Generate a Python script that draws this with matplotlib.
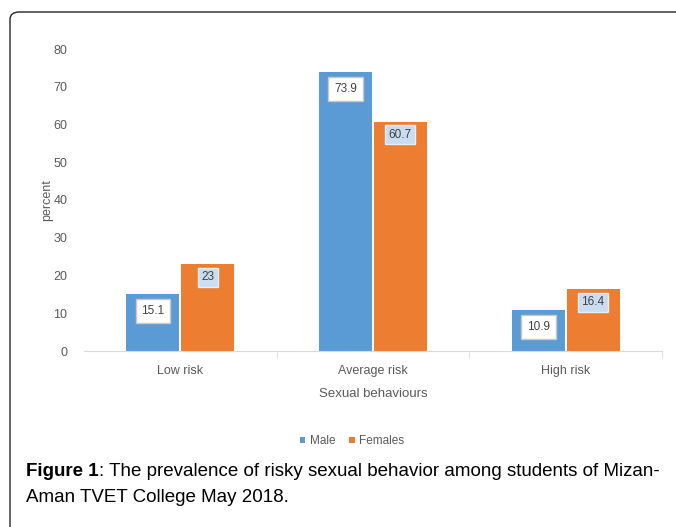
import matplotlib
matplotlib.use("Agg")
import matplotlib.pyplot as plt
from matplotlib.patches import FancyBboxPatch
import numpy as np

categories = ["Low risk", "Average risk", "High risk"]
male = [15.1, 73.9, 10.9]
females = [23, 60.7, 16.4]
series_names = ["Male", "Females"]
yticks = [0, 10, 20, 30, 40, 50, 60, 70, 80]

W, H = 676, 527
fig = plt.figure(figsize=(W / 100, H / 100), dpi=100)
fig.patch.set_facecolor("white")

# outer rounded border
border = FancyBboxPatch((10 / W, -0.2), 1.2, (H - 12) / H + 0.2,
                        boxstyle="round,pad=0,rounding_size=0.014",
                        transform=fig.transFigure, fill=False,
                        edgecolor="#222222", linewidth=1.0)
fig.patches.append(border)

tick_font = ["Liberation Sans", "DejaVu Sans"]
gray = "#595959"

ax = fig.add_axes([84 / W, 1 - 351 / H, (662 - 84) / W, (351 - 49) / H])
x = np.arange(len(categories))
bw = 0.275
off = 0.142
b1 = ax.bar(x - off, male, bw, color="#5b9bd5", label=series_names[0], zorder=2)
b2 = ax.bar(x + off, females, bw, color="#ed7d31", label=series_names[1], zorder=2)

for xi, v in zip(x - off, male):
    ax.annotate(f"{v:g}", (xi, v), xytext=(0, -17), textcoords="offset pixels",
                ha="center", va="center", fontsize=8.5, color="#404040",
                family=tick_font,
                bbox=dict(boxstyle="square,pad=0.5", facecolor="white",
                          edgecolor="#c8c8c8", linewidth=1.0), zorder=3)
for xi, v in zip(x + off, females):
    ax.annotate(f"{v:g}", (xi, v), xytext=(0, -13), textcoords="offset pixels",
                ha="center", va="center", fontsize=8.5, color="#404040",
                family=tick_font,
                bbox=dict(boxstyle="square,pad=0.3", facecolor="#cadcf0",
                          edgecolor="#e6eef8", linewidth=1.0), zorder=3)

ax.set_xlim(-0.5, 2.5)
ax.set_ylim(0, 80)
ax.set_yticks(yticks)
ax.set_xticks(x)
ax.set_xticklabels(categories, family=tick_font, fontsize=9, color=gray)
ax.set_yticklabels([str(t) for t in yticks], family=tick_font, fontsize=9, color=gray)
ax.tick_params(axis="y", length=0, pad=12)
ax.tick_params(axis="x", length=0, pad=10)
ax.set_xticks([0.5, 1.5, 2.5], minor=True)
ax.tick_params(axis="x", which="minor", length=5, color="#d9d9d9", direction="out")
for s in ["top", "right", "left"]:
    ax.spines[s].set_visible(False)
ax.spines["bottom"].set_color("#d9d9d9")
ax.set_ylabel("percent", family=tick_font, fontsize=9, color=gray, labelpad=0)
ax.set_xlabel("Sexual behaviours", family=tick_font, fontsize=9.5, color=gray, labelpad=8)

leg = fig.legend(handles=[b1, b2], labels=series_names, loc="center",
                 bbox_to_anchor=(352 / W, 1 - 441 / H), ncol=2, frameon=False,
                 handlelength=0.45, handleheight=0.45, handletextpad=0.4,
                 columnspacing=1.2, prop={"family": tick_font, "size": 8.5})
for t in leg.get_texts():
    t.set_color(gray)

cap_font = ["Liberation Sans", "DejaVu Sans"]
cap_size = 13.5
t1 = fig.text(26 / W, 1 - 472 / H, "Figure 1", fontsize=cap_size, fontweight="bold",
              family=cap_font, va="center", ha="left")
fig.canvas.draw()
bb = t1.get_window_extent(renderer=fig.canvas.get_renderer())
fig.text(bb.x1 / W, 1 - 472 / H,
         ": The prevalence of risky sexual behavior among students of Mizan-",
         fontsize=cap_size, family=cap_font, va="center", ha="left")
fig.text(26 / W, 1 - 497 / H, "Aman TVET College May 2018.", fontsize=cap_size,
         family=cap_font, va="center", ha="left")

fig.savefig("out.png", dpi=100)
